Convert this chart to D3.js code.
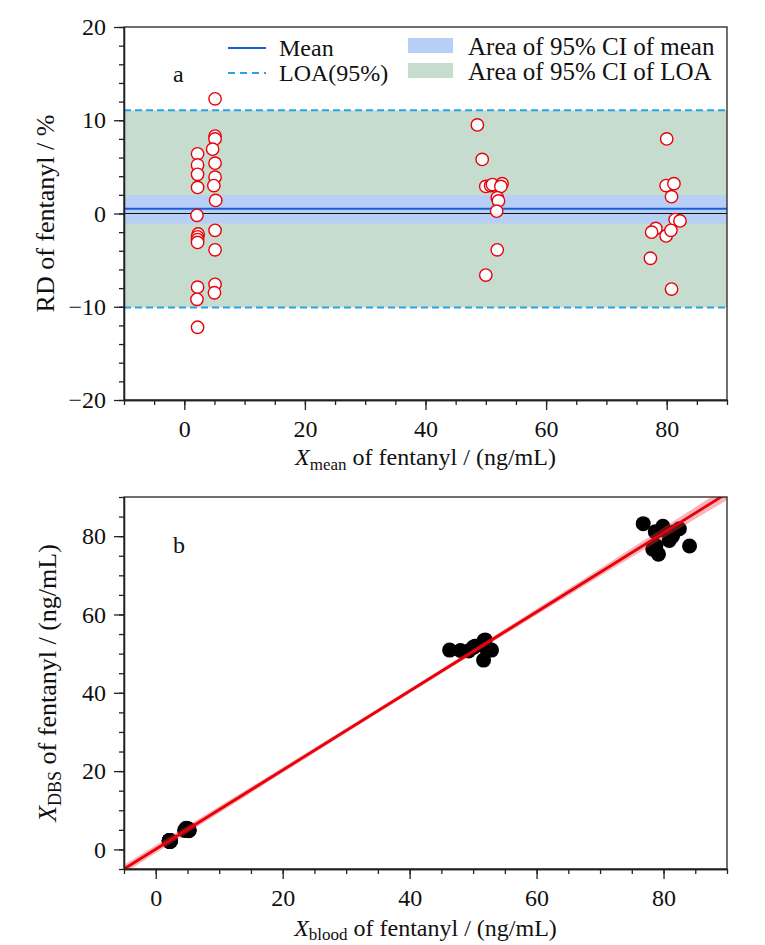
<!DOCTYPE html>
<html lang="en">
<head>
<meta charset="UTF-8">
<title>Fentanyl DBS vs blood</title>
<script src="https://cdn.jsdelivr.net/npm/d3@7"></script>
<style>
  body { margin: 0; background: #fff; }
  svg text { font-family: "Liberation Serif", "Times New Roman", serif; fill: #111; }
  .axis path, .axis line { stroke: #222; stroke-width: 1.3; fill: none; }
  .axis text { font-size: 24px; font-family: "Liberation Serif", serif; fill: #111; }
</style>
</head>
<body>
<script>
// ---- panel a : relative difference vs mean ----
const xMean = [
  2.2, 2.2, 2.2, 2.2, 2.1, 2.3, 2.2, 2.2, 2.2, 2.2, 2.1, 2.2,
  5.1, 5.1, 5.1, 4.7, 5.1, 5.1, 4.9, 5.2, 5.1, 5.1, 5.1, 5.0,
  48.6, 49.4, 50.0, 50.8, 51.1, 52.7, 52.5, 51.9, 52.1, 51.8, 51.9, 50.0,
  80.0, 79.9, 81.2, 80.8, 81.4, 82.2, 78.2, 77.5, 79.9, 80.7, 77.3, 80.8
];
const rd = [
  6.4, 5.2, 4.2, 2.8, -0.2, -2.2, -2.5, -2.8, -3.1, -7.9, -9.2, -12.2,
  12.3, 8.3, 8.0, 6.9, 5.4, 3.9, 3.0, 1.4, -1.8, -3.9, -7.6, -8.5,
  9.5, 5.8, 2.9, 3.0, 3.1, 3.2, 2.9, 1.7, 1.35, 0.25, -3.9, -6.6,
  8.0, 3.0, 3.2, 1.8, -0.65, -0.8, -1.6, -2.0, -2.4, -1.8, -4.8, -8.1
];
const meanRd = 0.5;
const ciMean = [-1.07, 1.96];
const loa = [-10.08, 11.07];

// ---- panel b : DBS vs blood ----
const xBlood = [
  2.13, 2.14, 2.15, 2.17, 2.10, 2.33, 2.23, 2.23, 2.23, 2.29, 2.20, 2.33,
  4.79, 4.89, 4.90, 4.54, 4.96, 5.00, 4.83, 5.16, 5.15, 5.20, 5.29, 5.21,
  46.3, 48.0, 49.3, 50.0, 50.3, 51.9, 51.7, 51.5, 51.75, 51.7, 52.9, 51.65,
  76.8, 78.7, 79.9, 80.1, 81.7, 82.5, 78.8, 78.3, 80.9, 81.4, 79.2, 84.1
];
const xDbs = [
  2.27, 2.26, 2.25, 2.23, 2.10, 2.27, 2.17, 2.17, 2.17, 2.11, 2.00, 2.07,
  5.41, 5.31, 5.30, 4.86, 5.24, 5.20, 4.97, 5.24, 5.05, 5.00, 4.91, 4.79,
  50.9, 50.8, 50.7, 51.6, 51.9, 53.5, 53.3, 52.3, 52.45, 51.9, 50.9, 48.35,
  83.2, 81.1, 82.5, 81.5, 81.1, 81.9, 77.6, 76.7, 78.9, 80.0, 75.4, 77.5
];
const fitSlope = 1.01, fitIntercept = 0.05;
const bandX = [-5, 20, 45, 70, 90];
const bandHalf = [1.1, 0.7, 0.6, 1.0, 1.7];

const xTicksA = [0, 20, 40, 60, 80];
const yTicksA = [-20, -10, 0, 10, 20];
const xTicksB = [0, 20, 40, 60, 80];
const yTicksB = [0, 20, 40, 60, 80];

const W = 765, H = 945;
const svg = d3.select("body").append("svg").attr("width", W).attr("height", H);

const left = 124, right = 727;
const serif = "'Liberation Serif', 'Times New Roman', serif";

function drawAxes(g, xs, ys, xMaj, xMin, yMaj, yMin, top, bottom) {
  g.append("g").attr("class", "axis")
    .attr("transform", "translate(0," + bottom + ")")
    .call(d3.axisBottom(xs).tickValues(xMin).tickSize(5).tickFormat("").tickSizeOuter(0));
  g.append("g").attr("class", "axis")
    .attr("transform", "translate(0," + bottom + ")")
    .call(d3.axisBottom(xs).tickValues(xMaj).tickSize(10).tickPadding(10).tickSizeOuter(0))
    .attr("font-family", serif).attr("font-size", 24);
  g.append("g").attr("class", "axis")
    .attr("transform", "translate(" + left + ",0)")
    .call(d3.axisLeft(ys).tickValues(yMin).tickSize(5).tickFormat("").tickSizeOuter(0));
  g.append("g").attr("class", "axis")
    .attr("transform", "translate(" + left + ",0)")
    .call(d3.axisLeft(ys).tickValues(yMaj).tickSize(10).tickPadding(8).tickSizeOuter(0)
      .tickFormat(d => d < 0 ? "\u2212" + Math.abs(d) : d))
    .attr("font-family", serif).attr("font-size", 24);
  g.append("rect")
    .attr("x", left).attr("y", top)
    .attr("width", right - left).attr("height", bottom - top)
    .attr("fill", "none").attr("stroke", "#222").attr("stroke-width", 1.3);
}

// ================= panel a =================
const topA = 27, botA = 400;
const xA = d3.scaleLinear().domain([-10, 90]).range([left, right]);
const yA = d3.scaleLinear().domain([-20, 20]).range([botA, topA]);
const gA = svg.append("g");

gA.append("rect")
  .attr("x", left).attr("width", right - left)
  .attr("y", yA(loa[1])).attr("height", yA(loa[0]) - yA(loa[1]))
  .attr("fill", "#c6dccf");
gA.append("rect")
  .attr("x", left).attr("width", right - left)
  .attr("y", yA(ciMean[1])).attr("height", yA(ciMean[0]) - yA(ciMean[1]))
  .attr("fill", "#b7cff4");
gA.append("line")
  .attr("x1", left).attr("x2", right).attr("y1", yA(0)).attr("y2", yA(0))
  .attr("stroke", "#111").attr("stroke-width", 1.2);
gA.append("line")
  .attr("x1", left).attr("x2", right).attr("y1", yA(meanRd)).attr("y2", yA(meanRd))
  .attr("stroke", "#1b5fd6").attr("stroke-width", 2);
loa.forEach(v => {
  gA.append("line")
    .attr("x1", left).attr("x2", right).attr("y1", yA(v)).attr("y2", yA(v))
    .attr("stroke", "#2aa3e3").attr("stroke-width", 2).attr("stroke-dasharray", "7,4");
});

gA.selectAll("circle.rd")
  .data(xMean.map((m, i) => ({ m: m, r: rd[i] })))
  .enter().append("circle")
  .attr("class", "rd")
  .attr("cx", d => xA(d.m))
  .attr("cy", d => yA(d.r))
  .attr("r", 6.2)
  .attr("fill", "#fff")
  .attr("stroke", "#e8000b")
  .attr("stroke-width", 1.4);

drawAxes(gA, xA, yA, xTicksA, d3.range(-10, 91, 5), yTicksA, d3.range(-20, 21, 2), topA, botA);

// legend a
gA.append("line").attr("x1", 228).attr("x2", 266).attr("y1", 48).attr("y2", 48)
  .attr("stroke", "#1b5fd6").attr("stroke-width", 2);
gA.append("text").attr("x", 279).attr("y", 56).attr("font-size", 24).text("Mean");
gA.append("line").attr("x1", 228).attr("x2", 266).attr("y1", 73).attr("y2", 73)
  .attr("stroke", "#2aa3e3").attr("stroke-width", 2).attr("stroke-dasharray", "7,5");
gA.append("text").attr("x", 279).attr("y", 81).attr("font-size", 24).text("LOA(95%)");
gA.append("rect").attr("x", 408).attr("y", 38).attr("width", 45).attr("height", 15).attr("fill", "#b7cff4");
gA.append("text").attr("x", 468).attr("y", 55).attr("font-size", 25).text("Area of 95% CI of mean");
gA.append("rect").attr("x", 408).attr("y", 63).attr("width", 45).attr("height", 15).attr("fill", "#c6dccf");
gA.append("text").attr("x", 468).attr("y", 80).attr("font-size", 25).text("Area of 95% CI of LOA");
gA.append("text").attr("x", 173).attr("y", 82).attr("font-size", 24).text("a");

// axis titles a
const xtA = gA.append("text").attr("x", (left + right) / 2).attr("y", 465)
  .attr("text-anchor", "middle").attr("font-size", 24);
xtA.append("tspan").attr("font-style", "italic").text("X");
xtA.append("tspan").attr("font-size", 17).attr("dy", 5).text("mean");
xtA.append("tspan").attr("dy", -5).text(" of fentanyl / (ng/mL)");

gA.append("text")
  .attr("transform", "translate(54," + ((topA + botA) / 2) + ") rotate(-90)")
  .attr("text-anchor", "middle").attr("font-size", 26)
  .text("RD of fentanyl / %");

// ================= panel b =================
const topB = 497, botB = 869;
const xB = d3.scaleLinear().domain([-5, 90]).range([left, right]);
const yB = d3.scaleLinear().domain([-5, 90]).range([botB, topB]);
const gB = svg.append("g");

svg.append("defs").append("clipPath").attr("id", "clipB")
  .append("rect").attr("x", left).attr("y", topB)
  .attr("width", right - left).attr("height", botB - topB);

gB.selectAll("circle.pt")
  .data(xBlood.map((b, i) => ({ b: b, d: xDbs[i] })))
  .enter().append("circle")
  .attr("class", "pt")
  .attr("cx", d => xB(d.b))
  .attr("cy", d => yB(d.d))
  .attr("r", 7.5)
  .attr("fill", "#000");

const bandData = bandX.map((x, i) => ({ x: x, h: bandHalf[i] }));
gB.append("path")
  .datum(bandData)
  .attr("clip-path", "url(#clipB)")
  .attr("fill", "rgba(240,60,70,0.38)")
  .attr("d", d3.area()
    .curve(d3.curveMonotoneX)
    .x(d => xB(d.x))
    .y0(d => yB(fitSlope * d.x + fitIntercept - d.h))
    .y1(d => yB(fitSlope * d.x + fitIntercept + d.h)));

gB.append("path")
  .datum([-5, 90])
  .attr("clip-path", "url(#clipB)")
  .attr("fill", "none")
  .attr("stroke", "#e8000b")
  .attr("stroke-width", 2.8)
  .attr("d", d3.line().x(d => xB(d)).y(d => yB(fitSlope * d + fitIntercept)));

drawAxes(gB, xB, yB, xTicksB, d3.range(-5, 91, 5), yTicksB, d3.range(-5, 91, 5), topB, botB);

gB.append("text").attr("x", 173).attr("y", 553).attr("font-size", 24).text("b");

const xtB = gB.append("text").attr("x", (left + right) / 2).attr("y", 936)
  .attr("text-anchor", "middle").attr("font-size", 24);
xtB.append("tspan").attr("font-style", "italic").text("X");
xtB.append("tspan").attr("font-size", 17).attr("dy", 4).text("blood");
xtB.append("tspan").attr("dy", -4).text(" of fentanyl / (ng/mL)");

const ytB = gB.append("text")
  .attr("transform", "translate(56," + ((topB + botB) / 2) + ") rotate(-90)")
  .attr("text-anchor", "middle").attr("font-size", 26);
ytB.append("tspan").attr("font-style", "italic").text("X");
ytB.append("tspan").attr("font-size", 18).attr("dy", 5).text("DBS");
ytB.append("tspan").attr("dy", -5).text(" of fentanyl / (ng/mL)");
</script>
</body>
</html>
